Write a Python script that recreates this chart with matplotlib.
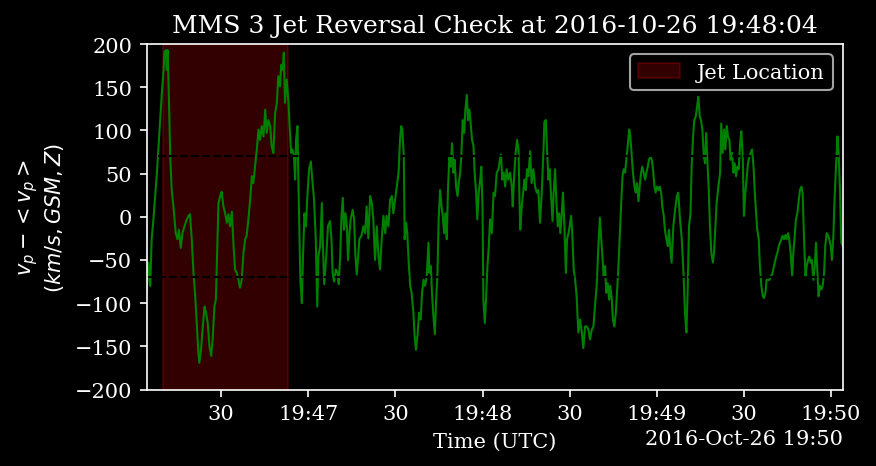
import datetime as dt
import matplotlib
matplotlib.use("Agg")
import matplotlib.pyplot as plt
import matplotlib.dates as mdates

# proton velocity deviation, seconds after 2016-10-26 19:46:00
secs = [
    4.4, 5.0, 5.6, 6.1, 6.7, 7.3, 7.9, 8.4, 9.0, 9.6, 10.2, 10.5, 11.0, 11.3, 11.6, 12.1, 12.5, 13.0, 13.6, 14.4,
    15.0, 15.5, 16.1, 16.7, 17.4, 18.2, 18.8, 19.3, 19.9, 20.5, 21.1, 21.6, 22.2, 22.5, 23.1, 23.6, 24.3, 24.8,
    25.4, 26.0, 26.6, 27.1, 27.7, 28.2, 28.6, 29.1, 29.7, 30.2, 30.8, 31.4, 32.0, 32.5, 33.1, 33.7, 34.3, 34.8,
    35.4, 36.0, 36.5, 37.1, 37.7, 38.3, 38.8, 39.4, 40.0, 40.6, 41.1, 41.7, 42.3, 42.9, 43.4, 44.0, 44.6, 45.2,
    45.7, 46.3, 46.9, 47.4, 48.0, 48.6, 49.2, 49.7, 50.3, 50.7, 51.2, 51.6, 52.0, 52.6, 53.2, 53.6, 54.1, 54.6,
    55.1, 55.5, 55.8, 56.3, 56.6, 57.0, 57.3, 57.8, 58.2, 58.7, 59.2, 59.7, 60.3, 60.9, 61.4, 62.0, 62.6, 63.1,
    63.5,
    64.1, 64.7, 65.0, 65.5, 66.2, 66.8, 67.5, 68.0, 68.4, 68.9, 69.5, 70.1, 70.5, 71.0, 71.4, 71.9, 72.3, 72.8,
    73.3, 73.7, 74.2, 74.6, 75.3, 75.8, 76.2, 76.7, 77.2, 77.6, 78.3, 79.0, 79.6, 80.1, 80.7, 81.3, 81.9, 82.4,
    83.0, 83.6, 84.2, 84.7, 85.3, 85.9, 86.5, 87.0, 87.6, 88.2, 88.8, 89.3, 89.9, 90.5, 91.1, 91.6, 92.0, 92.4,
    92.9, 93.2, 93.7, 94.1, 94.6, 95.1, 95.6, 96.2, 96.7, 97.1, 97.6, 98.2, 98.7, 99.2, 99.7, 100.2, 100.8,
    101.4, 101.7, 102.2, 102.6, 103.1, 103.6, 104.0, 104.5, 104.9, 105.4, 105.9, 106.3, 106.8, 107.2, 107.7,
    108.1, 108.6, 109.1, 109.5, 110.0, 110.4, 110.9, 111.4, 111.8, 112.3, 112.7, 113.2, 113.7, 114.1, 114.6,
    115.0, 115.5, 116.0, 116.4, 116.9, 117.3, 117.8, 118.2, 118.7, 119.2, 119.6, 120.0, 120.3, 120.8, 121.2,
    121.7, 122.1, 122.6, 123.2, 123.8,
    124.3, 124.9, 125.5, 126.0, 126.4, 126.8, 127.3, 127.8, 128.3, 128.9, 129.5, 130.1, 130.4, 130.9, 131.4,
    131.9, 132.4, 132.7, 133.0, 133.5, 134.0, 134.4, 134.9, 135.3, 135.8, 136.4, 136.9, 137.5, 138.1, 138.7,
    139.2, 139.8, 140.4, 141.0, 141.3, 141.8, 142.2, 142.7, 143.1, 143.6, 144.1, 144.5, 145.0, 145.4, 145.9,
    146.4, 146.8, 147.3, 147.7, 148.2, 148.7, 149.1, 149.6, 150.0, 150.5, 150.9, 151.4, 151.9, 152.4, 153.0,
    153.6, 154.2, 154.7, 155.3, 155.9, 156.5, 157.0, 157.6, 158.2, 158.7, 159.3, 159.9, 160.4, 160.8, 161.3,
    161.7, 162.2, 162.6, 163.1, 163.6, 164.0, 164.5, 164.9, 165.4, 165.9, 166.3, 166.8, 167.2, 167.7, 168.2,
    168.6, 169.1, 169.5, 170.0, 170.5, 170.9, 171.4, 171.8, 172.3, 172.7, 173.2, 173.7, 174.1, 174.6, 175.0,
    175.5, 176.0, 176.4, 176.9, 177.3, 177.8, 178.3, 178.7, 179.2, 179.6, 180.1, 180.6, 181.0, 181.5, 181.9,
    182.4, 182.8, 183.3, 183.8, 184.2,
    184.6, 185.1, 185.7, 186.3, 186.9, 187.4, 188.0, 188.6, 189.2, 189.7, 190.2, 190.6, 191.1, 191.6, 192.0,
    192.5, 192.9, 193.4, 193.9, 194.3, 194.8, 195.2, 195.7, 196.2, 196.6, 197.0, 197.4, 197.9, 198.3, 198.8,
    199.3, 199.7, 200.2, 200.6, 201.2, 201.8, 202.2, 202.7, 203.2, 203.6, 204.1, 204.5, 205.0, 205.4, 205.9,
    206.4, 206.8, 207.3, 207.7, 208.2, 208.7, 209.1, 209.6, 210.0, 210.5, 211.0, 211.4, 211.9, 212.3, 212.8,
    213.3, 213.7, 214.2, 214.6, 215.1, 215.5, 216.0, 216.5, 216.9, 217.4, 217.8, 218.3, 218.8, 219.2, 219.7,
    220.1, 220.6, 221.1, 221.5, 222.0, 222.4, 222.9, 223.3, 223.8, 224.3, 224.7, 225.2, 225.6, 226.1, 226.6,
    227.0, 227.5, 227.9, 228.4, 228.9, 229.3, 229.8, 230.2, 230.7, 231.2, 231.6, 232.1, 232.5, 233.0, 233.4,
    233.9, 234.4, 234.8, 235.3, 235.7, 236.2, 236.7, 237.1, 237.6, 238.0, 238.5, 239.0, 239.4, 239.9, 240.3,
    240.8, 241.2, 241.7, 242.2, 242.6, 243.1, 243.5, 244.1,
]
vp = [
    -85, -53, -80, -26, -3, 24, 51, 78, 112, 143, 170, 191, 193, 170, 193, 128, 70, 31, 12, -19,
    -26, -15, -36, -19, -11, -3, 1, 3, -26, -65, -92, -123, -158, -169, -154, -131, -104, -111,
    -123, -150, -161, -142, -104, -96, -46, 16, 24, 29, 12, 4, -7, 3, -11, 6, -34, -61,
    -65, -73, -82, -73, -42, -26, -22, -3, 20, 47, 39, 58, 78, 101, 89, 105, 93, 124,
    97, 112, 105, 82, 74, 120, 132, 163, 151, 176, 170, 190, 132, 159, 132, 105, 74, 78,
    70, 43, 89, 105, 43, -26, -73, -100, -46, 4, -11, 24, 55, 64, 43, 20, -26, -104,
    -46,
    -34, 16, -26, -78, -46, -11, -5, -26, -65, -75, -61, -65, -78, -46, -3, 22, -15, 4,
    -11, -50, -19, -3, 8, -3, -42, -67, -46, -26, -22, -11, -19, 12, -25, 24, 16, -3,
    -50, -11, -46, -61, -26, 1, -19, 1, -11, 20, 24, 4, 20, 35, 51, 89, 105, 101,
    70, -26, -7, -19, -53, -80, -88, -111, -142, -154, -138, -111, -119, -88, -73, -80, -69,
    -30, -65, -57, -88, -115, -136, -100, -65, -3, 31, 12, 1, -19, 4, -26,
    31, 70, 58, 85, 51, 66, 35, 24, 39, 51, 70, 112, 97, 124, 141,
    112, 124, 105, 89, 82, 51, 28, -3, 28, 43, 58, 12, -96, -123, -96,
    -57, -38, -3, -19, 28,
    24, 51, 55, 66, 72, 43, 51, 35, 55, 43, 51, 35, 12, 47, 74,
    89, 78, 24, -15, 12, 28, 43, 31, 55, 47, 76, 39, 55, 35, 28,
    31, -7, 28, 78, 110, 112, 78, 43, 55, 24, -5, 28, 55, 20, -11,
    4, -19, 4, 28, -11, -65, -26, -19, -11, 1, -19, -61, -73, -92, -134,
    -119, -134, -152, -127, -127, -131, -142, -131, -127, -104, -80, -34, -1, -22, -46,
    -69, -57, -88, -77, -96, -80, -96, -119, -127, -111, -88, -57, -26, 12, 47,
    55, 51, 66, 82, 101, 93, 70, 51, 35, 28, 39, 18, 35, 51, 58,
    51, 43, 51, 58, 66, 70, 66, 55, 35, 28, 35, 31, 35, 28, 12,
    1, -15, -26, -34, -15,
    -34, -53, -11, 8, 24, 28, -3, -26, -65, -111, -134, -88, -11, 4, 58,
    93, 112, 116, 128, 139, 116, 112, 101, 70, 62, 97, 66, 31, -11, -42,
    -53, -42, -11, 16, 35, 51, 108, 74, 101, 78, 105, 93, 89, 66, 74,
    51, 62, 47, 58, 55, 85, 99, 70, 1, 28, 47, 62, 70, 74, 78,
    58, 31, 4, -15, -26, -57, -80, -92, -94, -88, -73, -73, -73, -69, -67,
    -61, -53, -46, -42, -34, -30, -26, -22, -26, -21, -26, -19, -26, -42, -69,
    -42, -22, -3, 4, 20, 31, 35, 28, -26, -69, -57, -50, -46, -53, -50,
    -73, -57, -30, -65, -92, -80, -84, -80, -65, -34, -19, -22, -26, -34, -50,
    -22, 20, 58, 93, 74, 28, -30, -34,
]

t0 = dt.datetime(2016, 10, 26, 19, 46, 0)
jet_start = t0 + dt.timedelta(seconds=10)
jet_end = t0 + dt.timedelta(seconds=53)
threshold = 70


def main():
    plt.style.use('dark_background')
    plt.rcParams['font.family'] = 'serif'

    times = [t0 + dt.timedelta(seconds=s) for s in secs]

    fig, ax = plt.subplots(figsize=(5.84, 3.113), dpi=150)
    fig.subplots_adjust(left=0.1675, right=0.9623, top=0.9036, bottom=0.1638)

    ax.axvspan(jet_start, jet_end, color='red', alpha=0.2, label='Jet Location')
    ax.plot(times, vp, color='green', lw=1)
    ax.axhline(threshold, color='k', ls='--', lw=1)
    ax.axhline(-threshold, color='k', ls='--', lw=1)

    ax.set_xlim(times[0], times[-1])
    ax.set_ylim(-200, 200)

    locator = mdates.SecondLocator(bysecond=[0, 30])
    ax.xaxis.set_major_locator(locator)
    ax.xaxis.set_major_formatter(mdates.ConciseDateFormatter(locator))

    ax.set_xlabel('Time (UTC)')
    ax.set_ylabel('$v_p - <v_p>$\n$(km/s, GSM, Z)$')
    ax.set_title('MMS 3 Jet Reversal Check at 2016-10-26 19:48:04')
    ax.legend(loc='upper right')

    fig.savefig('out.png', dpi=150)


if __name__ == "__main__":
    main()
